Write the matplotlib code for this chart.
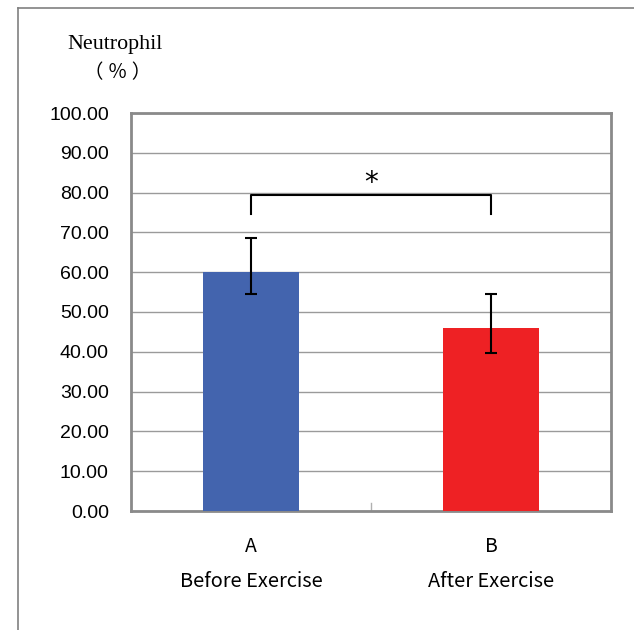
import numpy as np
import matplotlib.pyplot as plt
from matplotlib.lines import Line2D

# data
groups = ['A', 'B']
names = ['Before Exercise', 'After Exercise']
means = [60.0, 46.0]
err_low = [5.5, 6.4]
err_high = [8.5, 8.5]
colors = ['#4364AE', '#EE2124']
yticks = np.arange(0, 101, 10)

fig = plt.figure(figsize=(6.34, 6.30), dpi=100)
ax = fig.add_axes([131/634, 1 - 511/630, 480/634, 398/630])

x = np.arange(len(groups))
ax.bar(x, means, width=0.4, color=colors, zorder=3)
ax.errorbar(x, means, yerr=[err_low, err_high], fmt='none', ecolor='black',
            elinewidth=1.5, capsize=4, capthick=1.5, zorder=4)

ax.set_xlim(-0.5, 1.5)
ax.set_ylim(0, 100)
ax.set_yticks(yticks)
ax.set_yticklabels(['%.2f' % v for v in yticks], fontsize=14,
                   family='Liberation Sans')
ax.tick_params(axis='y', length=0, pad=16)
ax.set_xticks([])
ax.grid(axis='y', color='#9a9a9a', linewidth=1, zorder=0)
for s in ax.spines.values():
    s.set_color('#8a8a8a')
    s.set_linewidth(2)
# small divider tick between categories
ax.plot([0.5, 0.5], [0, 2], color='#b0b0b0', linewidth=1, zorder=2)

# significance bracket
ax.plot([0, 0, 1, 1], [74.6, 79.4, 79.4, 74.6], color='black', linewidth=1.5,
        zorder=5, clip_on=False)
ax.text(0.5, 79.0, '*', ha='center', va='bottom', fontsize=20,
        family='DejaVu Sans')

# category labels
for i in range(len(groups)):
    ax.text(x[i], -8.9, groups[i], ha='center', va='center', fontsize=14,
            family='Noto Sans CJK JP')
    ax.text(x[i], -17.6, names[i], ha='center', va='center', fontsize=14.4,
            family='Noto Sans CJK JP')

# y label
fig.text(115/634, 1 - 45/630, 'Neutrophil', ha='center', va='center',
         fontsize=15.8, family='Liberation Serif')
fig.text(118/634, 1 - 73/630, '（ ％ ）', ha='center', va='center',
         fontsize=14, family='Noto Sans CJK JP')

# outer frame
fig.add_artist(Line2D([18/634, 18/634], [0, 1 - 8/630], color='#808080',
                      linewidth=1.2, transform=fig.transFigure))
fig.add_artist(Line2D([18/634, 1], [1 - 8/630, 1 - 8/630], color='#808080',
                      linewidth=1.2, transform=fig.transFigure))

fig.savefig('out.png', dpi=100)
